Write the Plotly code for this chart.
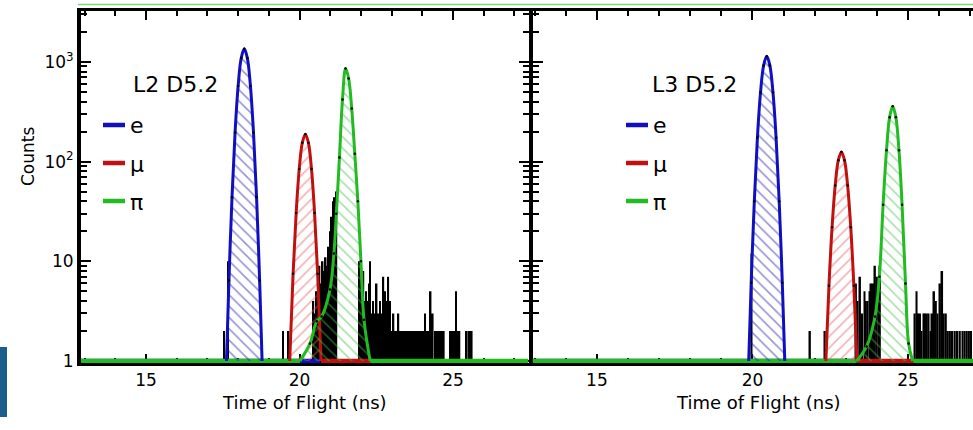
import plotly.graph_objects as go

# ---------------- data ----------------
# Left panel: L2 D5.2
e_L_x = [17.62, 17.7, 17.8, 17.9, 18.0, 18.1, 18.2, 18.3, 18.4, 18.5, 18.6, 18.7, 18.78]
e_L_y = [1, 6.4, 44, 196, 574, 1090, 1350, 1090, 574, 196, 44, 6.4, 1]
mu_L_x = [19.68, 19.79, 19.89, 19.99, 20.09, 20.19, 20.29, 20.39, 20.49, 20.59, 20.70]
mu_L_y = [1, 7.5, 30.5, 84, 154, 188, 154, 84, 30.5, 7.5, 1]
pi_L_x = [20.02, 20.34, 20.56, 20.72, 20.99, 21.12, 21.2, 21.3, 21.4, 21.5, 21.6, 21.7, 21.8, 21.9, 22.0, 22.1, 22.3]
pi_L_y = [1, 1.5, 2.5, 2.8, 5.2, 12, 30, 110, 420, 857, 681, 341, 120, 40, 10, 2.6, 1]
base_L_e = [12.88, 20.67]
base_L_mu = [20.70, 22.39]
base_L_pi = [12.88, 20.02, None, 22.30, 27.46]

hist_L_x = [17.54, 17.67, 19.46, 19.64,
            20.45, 20.50, 20.55, 20.60, 20.65, 20.70, 20.75, 20.80, 20.85, 20.90, 20.95, 21.00, 21.05, 21.10, 21.15, 21.20,
            21.95, 21.99, 22.04, 22.08, 22.13, 22.17, 22.21, 22.26, 22.30, 22.35, 22.40, 22.45, 22.51, 22.56, 22.62,
            22.67, 22.73, 22.79, 22.84, 22.89, 22.95, 23.00, 23.06, 23.11, 23.16, 23.22, 23.27, 23.33, 23.38, 23.44,
            23.49, 23.55, 23.60, 23.65, 23.71, 23.76, 23.82, 23.87, 23.93, 24.00, 24.04, 24.09, 24.14, 24.20, 24.27,
            24.34, 24.41, 24.47, 24.53, 24.58, 24.64, 24.70, 24.90, 24.98, 25.04, 25.10, 25.15, 25.21, 25.45, 25.52,
            25.61]
hist_L_c = [2, 10, 2, 2,
            4, 3, 5, 7, 9, 6, 10, 8, 11, 9, 14, 20, 28, 40, 44, 50,
            10, 8, 6, 8, 4, 5, 4, 6, 10, 3, 4, 3, 6, 3, 4,
            3, 7, 5, 4, 7, 4, 2, 3, 2, 2, 3, 2, 2, 2, 2,
            2, 2, 2, 2, 2, 2, 2, 2, 2, 2, 2, 3, 2, 2, 5,
            3, 2, 2, 2, 2, 2, 2, 2, 2, 2, 5, 2, 2, 2, 2,
            2]

# Right panel: L3 D5.2
e_R_x = [19.88, 19.96, 20.06, 20.16, 20.26, 20.36, 20.46, 20.56, 20.66, 20.76, 20.86, 20.96, 21.04]
e_R_y = [1, 6.1, 40, 174, 493, 921, 1138, 921, 493, 174, 40, 6.1, 1]
mu_R_x = [22.36, 22.46, 22.56, 22.66, 22.76, 22.86, 22.96, 23.06, 23.16, 23.26, 23.36]
mu_R_y = [1, 5.7, 22, 57.5, 103, 125, 103, 57.5, 22, 5.7, 1]
pi_R_x = [23.35, 23.67, 23.94, 24.08, 24.2, 24.31, 24.41, 24.51, 24.61, 24.71, 24.81, 24.92, 25.02, 25.15]
pi_R_y = [1, 1.4, 2.8, 7, 37, 130, 279, 359, 279, 130, 37, 6, 1.5, 1]
base_R_e = [12.93, 23.56]
base_R_mu = [23.36, 25.22]
base_R_pi = [12.93, 23.35, None, 25.17, 27.09]

hist_R_x = [19.97, 21.85, 22.33,
            23.33, 23.38, 23.46, 23.53, 23.60, 23.65, 23.70, 23.76, 23.82, 23.88, 23.94, 24.00, 24.05, 24.10,
            25.22, 25.28, 25.33, 25.39, 25.44, 25.50, 25.55, 25.61, 25.66, 25.72, 25.78, 25.84, 25.90, 25.95,
            26.03, 26.10, 26.15, 26.22, 26.28, 26.35, 26.42, 26.50, 26.58, 26.67, 26.75, 26.82, 26.89, 26.96,
            27.03]
hist_R_c = [12, 2, 2,
            6, 4, 7, 3, 5, 4, 4, 5, 6, 6, 9, 7, 7, 9,
            3, 5, 3, 3, 2, 3, 3, 3, 3, 2, 3, 5, 4, 3,
            6, 8, 3, 3, 2, 2, 2, 2, 2, 2, 2, 2, 2, 2,
            2]

panel_labels = ["L2 D5.2", "L3 D5.2"]
legend_names = ["e", "μ", "π"]
y_tickvals = [1, 10, 100, 1000]
y_ticktext = ["1", "10", "10<sup>2</sup>", "10<sup>3</sup>"]
x_tickvals = [15, 20, 25]

# ---------------- styling ----------------
BLUE, RED, GREEN = "#1010c0", "#c01010", "#22bb22"
HATCH = {BLUE: ("\\", "rgba(30,30,170,0.95)"),
         RED: ("/", "rgba(225,90,90,0.95)"),
         GREEN: ("\\", "rgba(70,190,70,0.95)")}
FONT = "DejaVu Sans"
W, H = 973, 430
L_PX, R_PX, T_PX, B_PX = 81, 973, 11, 363


def PX(px):
    return (px - L_PX) / (R_PX - L_PX)


def PY(py):
    return (B_PX - py) / (B_PX - T_PX)


fig = go.Figure()


def add_panel(xa, ya, hx, hc, peaks, bases):
    fig.add_trace(go.Bar(x=hx, y=hc, width=0.055, marker=dict(color="black", line=dict(width=0)),
                         xaxis=xa, yaxis=ya, showlegend=False, hoverinfo="skip"))
    for col, bx in bases:
        fig.add_trace(go.Scatter(x=bx, y=[1 if v is not None else None for v in bx], mode="lines",
                                 line=dict(color=col, width=4.5), xaxis=xa, yaxis=ya,
                                 showlegend=False, hoverinfo="skip"))
    for col, px_, py_ in peaks:
        shp, fg = HATCH[col]
        fig.add_trace(go.Scatter(x=px_, y=py_, mode="lines", fill="toself",
                                 fillcolor="rgba(0,0,0,0)",
                                 fillpattern=dict(shape=shp, fgcolor=fg, bgcolor="rgba(255,255,255,0)",
                                                  size=8, solidity=0.2),
                                 line=dict(color=col, width=3, shape="spline", smoothing=1),
                                 xaxis=xa, yaxis=ya, showlegend=False, hoverinfo="skip"))
    for col, px_, py_ in peaks:
        fig.add_trace(go.Scatter(x=px_[1:-1], y=py_[1:-1], mode="markers",
                                 marker=dict(color="black", size=2.5),
                                 xaxis=xa, yaxis=ya, showlegend=False, hoverinfo="skip"))


add_panel("x", "y", hist_L_x, hist_L_c,
          [(BLUE, e_L_x, e_L_y), (RED, mu_L_x, mu_L_y), (GREEN, pi_L_x, pi_L_y)],
          [(BLUE, base_L_e), (RED, base_L_mu), (GREEN, base_L_pi)])
add_panel("x2", "y2", hist_R_x, hist_R_c,
          [(BLUE, e_R_x, e_R_y), (RED, mu_R_x, mu_R_y), (GREEN, pi_R_x, pi_R_y)],
          [(BLUE, base_R_e), (RED, base_R_mu), (GREEN, base_R_pi)])

minor_y = [d * 10 ** k for k in range(0, 4) for d in range(2, 10) if d * 10 ** k < 3300]

xcommon = dict(showline=True, linecolor="black", linewidth=3, mirror="ticks",
               ticks="inside", ticklen=9, tickwidth=2, tickcolor="black",
               tickvals=x_tickvals, showgrid=False, zeroline=False, layer="below traces",
               tickfont=dict(family=FONT, size=17, color="black"),
               minor=dict(ticks="inside", ticklen=5, tickwidth=2, tickcolor="black",
                          dtick=1, tick0=0, showgrid=False))
ycommon = dict(type="log", range=[-0.02, 3.51], showline=True, linecolor="black", linewidth=4,
               ticks="inside", ticklen=10, tickwidth=2, tickcolor="black",
               tickvals=y_tickvals, ticktext=y_ticktext, showgrid=False, zeroline=False,
               layer="below traces",
               tickfont=dict(family=FONT, size=17, color="black"),
               minor=dict(ticks="inside", ticklen=6, tickwidth=2, tickcolor="black",
                          tickmode="array", tickvals=minor_y, showgrid=False))

fig.update_layout(
    width=W, height=H, margin=dict(l=L_PX, r=W - R_PX, t=T_PX, b=H - B_PX),
    paper_bgcolor="white", plot_bgcolor="white", barmode="overlay", showlegend=False,
    xaxis=dict(domain=[0, PX(528.5)], range=[12.88, 27.46], anchor="y", **xcommon),
    yaxis=dict(domain=[0, 1], anchor="x", mirror="ticks", showticklabels=True, **ycommon),
    xaxis2=dict(domain=[PX(532.5), 1], range=[12.93, 27.09], anchor="y2", **xcommon),
    yaxis2=dict(domain=[0, 1], anchor="x2", mirror=False, showticklabels=False, **ycommon),
)

shapes = []
annotations = []
cols = [BLUE, RED, GREEN]
for i, (lx0, tx) in enumerate([(103, 131), (626, 650)]):
    annotations.append(dict(text=panel_labels[i], x=PX(tx), y=PY(84.5), xref="paper", yref="paper",
                            xanchor="left", yanchor="middle", showarrow=False,
                            font=dict(family=FONT, size=22, color="black")))
    for j, yy in enumerate([125, 163, 201]):
        shapes.append(dict(type="line", xref="paper", yref="paper", x0=PX(lx0), x1=PX(lx0 + 22),
                           y0=PY(yy), y1=PY(yy), line=dict(color=cols[j], width=4.5)))
        annotations.append(dict(text=legend_names[j], x=PX(lx0 + 25), y=PY(yy + 1), xref="paper",
                                yref="paper", xanchor="left", yanchor="middle", showarrow=False,
                                font=dict(family=FONT, size=22, color="black")))

for cx in (304, 758):
    annotations.append(dict(text="Time of Flight (ns)", x=PX(cx), y=PY(403), xref="paper", yref="paper",
                            xanchor="center", yanchor="middle", showarrow=False,
                            font=dict(family=FONT, size=18, color="black")))
annotations.append(dict(text="Counts", x=PX(28), y=PY(157), xref="paper", yref="paper", textangle=-90,
                        xanchor="center", yanchor="middle", showarrow=False,
                        font=dict(family=FONT, size=17, color="black")))

# decorative remnants at the crop edges of the source image
shapes.append(dict(type="line", xref="paper", yref="paper", x0=PX(78), x1=1, y0=PY(4.5), y1=PY(4.5),
                   line=dict(color="#7fd67f", width=1.5)))
shapes.append(dict(type="rect", xref="paper", yref="paper", x0=PX(0), x1=PX(7), y0=PY(417), y1=PY(347),
                   fillcolor="#1b5e8c", line=dict(width=0)))

fig.update_layout(shapes=shapes, annotations=annotations)
fig.write_html("out.html")
